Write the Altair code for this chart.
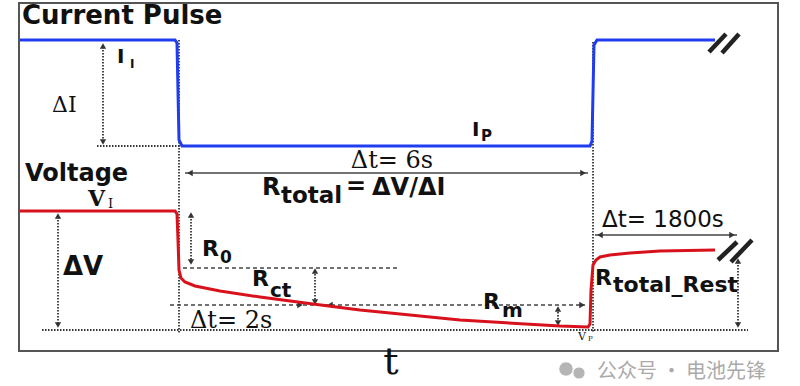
import altair as alt
import pandas as pd

W, H = 800, 386

# ---- data (diagram coordinates) ----
frame_x = [19, 778]
frame_y = [3, 351]

cur_x = [20, 175, 177, 179, 182, 590, 592, 594, 597, 715]
cur_y = [40, 40, 43, 140, 146, 146, 141, 45, 40, 40]

volt_x = [20, 175, 177, 178, 179, 181, 185, 195, 220, 260, 313, 360, 460, 560, 588, 590, 591, 593, 596, 600, 610, 630, 660, 715]
volt_y = [211, 211, 214, 240, 270, 278, 282, 286, 291, 297, 304, 310, 320, 326, 327, 324, 290, 265, 260, 257, 255, 253, 251, 250]

dot_x1 = [97, 179, 593, 42, 103, 58, 191, 315, 558, 738]
dot_y1 = [146, 40, 42, 330, 47, 217, 216, 271, 309, 262]
dot_x2 = [205, 179, 593, 748, 103, 58, 191, 315, 558, 738]
dot_y2 = [146, 333, 333, 330, 141, 324, 262, 302, 323, 325]

dash_x1 = [183, 170]
dash_y1 = [268, 305]
dash_x2 = [400, 585]
dash_y2 = [268, 305]

solid_x1 = [185, 595]
solid_y1 = [173, 235]
solid_x2 = [588, 737]
solid_y2 = [173, 235]

head_x = [103, 103, 58, 58, 191, 191, 315, 315, 558, 558, 738, 738, 190, 583, 600, 732, 300, 330, 582]
head_y = [46, 142, 216, 325, 215, 262, 271, 302, 309, 323, 261, 325, 173, 173, 235, 235, 305, 305, 305]
head_shape = ["triangle-up", "triangle-down"] * 6 + ["triangle-left", "triangle-right"] * 2 + ["triangle-right", "triangle-left", "triangle-right"]

slash_x1 = [709, 722, 718, 731]
slash_y1 = [52, 53, 260, 262]
slash_x2 = [726, 739, 737, 752]
slash_y2 = [34, 34, 242, 240]

bold_text = ["Current Pulse", "Voltage", "I", "I", "I", "P", "R", "total", "=", "ΔV/ΔI", "ΔV", "R", "0", "R", "ct", "R", "m", "R", "total_Rest"]
bold_x = [22, 25, 117, 130, 472, 481, 262, 281, 346, 372, 63, 202, 220, 252, 270, 483, 502, 595, 613]
bold_y = [16, 174, 57, 64, 130, 136, 188, 196, 187, 188, 267, 249, 258, 279, 291, 302, 311, 278, 285]
bold_size = [26, 24, 20, 12, 20, 15, 24, 23, 24, 24, 26, 22, 17, 22, 20, 22, 20, 22, 22]

serif_text = ["ΔI", "I", "V", "P"]
serif_x = [52, 108, 578, 588]
serif_y = [105, 204, 337, 339]
serif_size = [22, 13, 11, 7]

serif_b_text = ["V"]
serif_b_x = [88]
serif_b_y = [199]
serif_b_size = [22]

serif_c_text = ["Δt= 6s", "t"]
serif_c_x = [392, 391]
serif_c_y = [161, 363]
serif_c_size = [24, 38]

serif2_text = ["Δt= 2s"]
serif2_x = [190]
serif2_y = [321]
serif2_size = [24]

sans_text = ["Δt= 1800s"]
sans_x = [602]
sans_y = [220]
sans_size = [23]

wm_text = ["公众号 · 电池先锋"]
wm_x = [597]
wm_y = [372]
wm_size = [20]
icon_x = [566, 579]
icon_y = [369, 373]
icon_size = [210, 150]

# ---- scales ----
xs = alt.Scale(domain=[0, W], nice=False, zero=False)
ys = alt.Scale(domain=[0, H], nice=False, zero=False, reverse=True)

def X(f="x"):
    return alt.X(f + ":Q", scale=xs, axis=None)

def Y(f="y"):
    return alt.Y(f + ":Q", scale=ys, axis=None)

frame = alt.Chart(pd.DataFrame({"x": [frame_x[0]], "x2": [frame_x[1]], "y": [frame_y[0]], "y2": [frame_y[1]]})).mark_rect(
    fill=None, stroke="#555555", strokeWidth=2
).encode(x=X(), x2="x2:Q", y=Y(), y2="y2:Q")

cur_df = pd.DataFrame({"x": cur_x, "y": cur_y, "o": range(len(cur_x))})
volt_df = pd.DataFrame({"x": volt_x, "y": volt_y, "o": range(len(volt_x))})

def rules(x1, y1, x2, y2, **kw):
    df = pd.DataFrame({"x": x1, "y": y1, "x2": x2, "y2": y2})
    return alt.Chart(df).mark_rule(**kw).encode(x=X(), y=Y(), x2="x2:Q", y2="y2:Q")

dotted = rules(dot_x1, dot_y1, dot_x2, dot_y2, color="#333333", strokeWidth=1.8, strokeDash=[1.5, 1.5])
dashed = rules(dash_x1, dash_y1, dash_x2, dash_y2, color="#444444", strokeWidth=1.3, strokeDash=[4, 3])
solid = rules(solid_x1, solid_y1, solid_x2, solid_y2, color="#444444", strokeWidth=1.6)
slashes = rules(slash_x1, slash_y1, slash_x2, slash_y2, color="#222222", strokeWidth=4.5)

heads = alt.Chart(pd.DataFrame({"x": head_x, "y": head_y, "s": head_shape})).mark_point(
    filled=True, color="#333333", size=40, opacity=1
).encode(x=X(), y=Y(), shape=alt.Shape("s:N", scale=None))

cur_line = alt.Chart(cur_df).mark_line(color="#1f3cf0", strokeWidth=3).encode(x=X(), y=Y(), order="o:Q")
volt_line = alt.Chart(volt_df).mark_line(color="#d8121c", strokeWidth=3).encode(x=X(), y=Y(), order="o:Q")

def texts(t, x, y, s, font, weight="normal", color="#111111", align="left"):
    df = pd.DataFrame({"x": x, "y": y, "t": t, "s": s})
    return alt.Chart(df).mark_text(align=align, baseline="middle", font=font, fontWeight=weight, color=color).encode(
        x=X(), y=Y(), text="t:N", size=alt.Size("s:Q", scale=None)
    )

bold_layer = texts(bold_text, bold_x, bold_y, bold_size, "DejaVu Sans", "bold")
serif_layer = texts(serif_text, serif_x, serif_y, serif_size, "DejaVu Serif")
serif_b_layer = texts(serif_b_text, serif_b_x, serif_b_y, serif_b_size, "DejaVu Serif", "bold")
serif_c_layer = texts(serif_c_text, serif_c_x, serif_c_y, serif_c_size, "DejaVu Serif", align="center")
serif2_layer = texts(serif2_text, serif2_x, serif2_y, serif2_size, "DejaVu Serif")
sans_layer = texts(sans_text, sans_x, sans_y, sans_size, "DejaVu Sans")
wm_layer = texts(wm_text, wm_x, wm_y, wm_size, "Noto Sans CJK SC", color="#aaaaaa")
icon = alt.Chart(pd.DataFrame({"x": icon_x, "y": icon_y, "s": icon_size})).mark_point(
    filled=True, color="#b5b5b5", shape="circle", opacity=1, stroke="white", strokeWidth=1
).encode(x=X(), y=Y(), size=alt.Size("s:Q", scale=None))

chart = alt.layer(
    frame, dotted, dashed, solid, heads, cur_line, volt_line, slashes,
    bold_layer, serif_layer, serif_b_layer, serif_c_layer, serif2_layer, sans_layer, icon, wm_layer
).properties(width=W, height=H, padding=0, autosize=alt.AutoSizeParams(type="none")).configure_view(stroke=None)

chart.save("out.html", embed_options={"renderer": "svg", "actions": False})
